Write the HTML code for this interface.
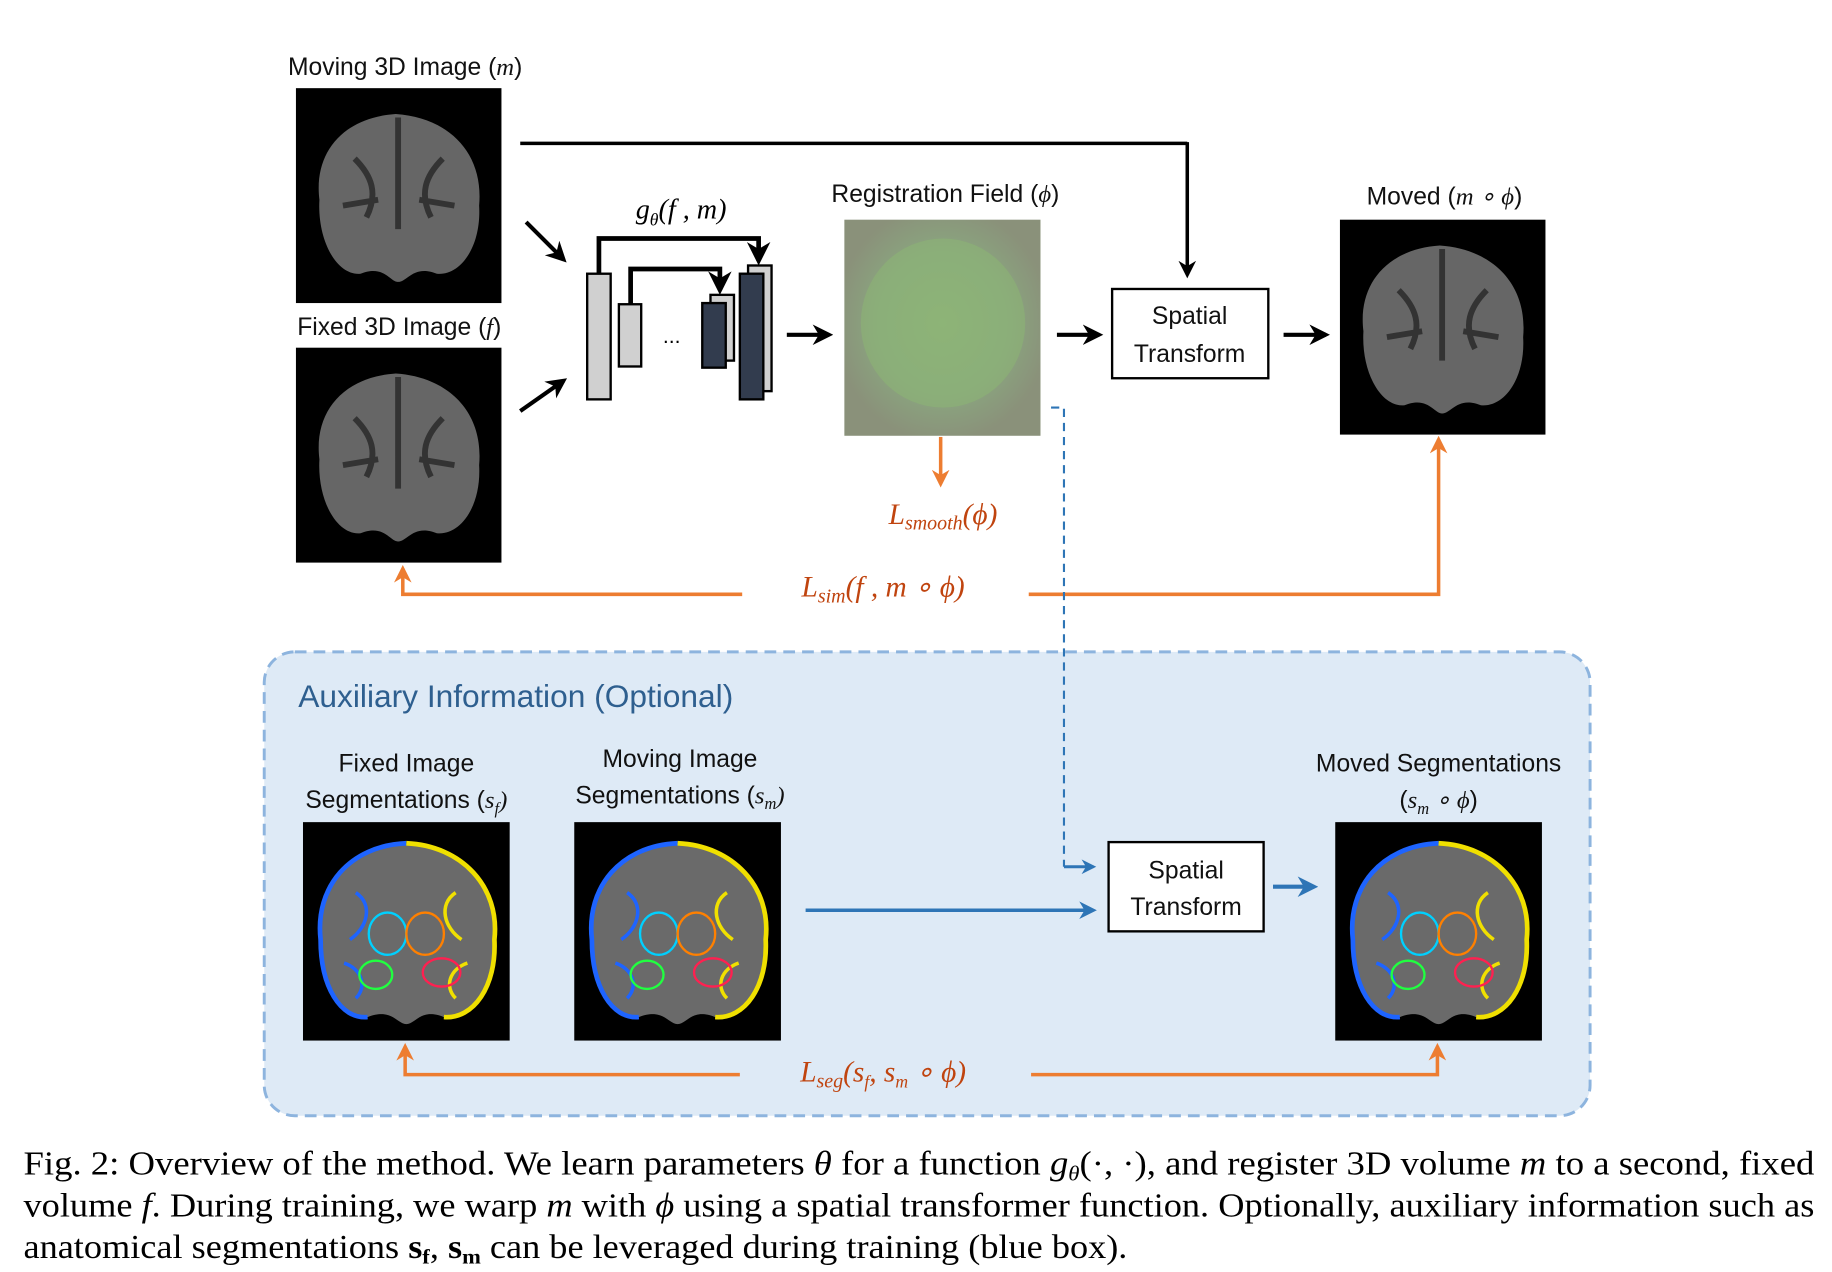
<!DOCTYPE html>
<html><head><meta charset="utf-8"><style>
html,body{margin:0;padding:0;background:#fff;width:1832px;height:1272px;overflow:hidden}
svg{display:block}
.s{font-family:"Liberation Sans","DejaVu Sans",sans-serif;font-size:21px;fill:#111}
.m{font-family:"Liberation Serif",serif;font-style:italic}
.o{fill:#c0440f;font-family:"Liberation Serif",serif;font-style:italic;font-size:25px}
.c{font-family:"Liberation Serif",serif;font-size:29px;fill:#000}
</style></head><body>
<svg width="1832" height="1272" viewBox="0 0 1560 1083" xmlns="http://www.w3.org/2000/svg">
<defs>
<marker id="ak" viewBox="0 0 10 10" refX="8" refY="5" markerWidth="5" markerHeight="5" orient="auto"><path d="M0,0 L10,5 L0,10 L3,5z" fill="#000"/></marker>
<marker id="ao" viewBox="0 0 10 10" refX="8" refY="5" markerWidth="5" markerHeight="5" orient="auto"><path d="M0,0 L10,5 L0,10 L3,5z" fill="#ed7d31"/></marker>
<marker id="ab" viewBox="0 0 10 10" refX="8" refY="5" markerWidth="5" markerHeight="5" orient="auto"><path d="M0,0 L10,5 L0,10 L3,5z" fill="#2e75b6"/></marker>
<g id="brain">
<rect x="0" y="0" width="175" height="183" fill="#000"/>
<path d="M20,95 C15,55 40,25 85,22 C130,25 160,55 156,100 C158,135 140,160 120,158 C100,150 95,165 87,165 C80,165 75,150 55,158 C35,160 18,130 20,95Z" fill="#666"/>
<path d="M87,25 L87,120 M50,60 C65,75 70,90 60,110 M125,60 C110,75 105,90 115,110 M40,100 L70,95 M135,100 L105,95" stroke="#333" stroke-width="5" fill="none"/>
</g>
<g id="seg">
<rect x="0" y="0" width="176" height="186" fill="#000"/>
<path d="M15,100 C10,55 40,20 88,18 C135,20 168,55 163,100 C165,140 145,168 120,166 C100,158 96,172 88,172 C80,172 76,158 55,166 C32,168 15,140 15,100Z" fill="#6a6a6a"/>
<path d="M88,18 C40,20 10,55 15,100 C15,140 32,168 55,166" stroke="#1e64ff" stroke-width="4" fill="none"/>
<path d="M88,18 C135,20 168,55 163,100 C165,140 145,168 120,166" stroke="#f0e000" stroke-width="4" fill="none"/>
<path d="M45,60 C60,70 55,90 40,100 M35,120 C50,125 55,140 45,150" stroke="#1e64ff" stroke-width="3" fill="none"/>
<path d="M130,60 C115,70 120,90 135,100 M140,120 C125,125 120,140 130,150" stroke="#f0e000" stroke-width="3" fill="none"/>
<ellipse cx="72" cy="95" rx="16" ry="18" fill="none" stroke="#00d0ff" stroke-width="2"/>
<ellipse cx="104" cy="95" rx="16" ry="18" fill="none" stroke="#ff8000" stroke-width="2"/>
<ellipse cx="62" cy="130" rx="14" ry="12" fill="none" stroke="#20ff40" stroke-width="2"/>
<ellipse cx="118" cy="128" rx="16" ry="12" fill="none" stroke="#ff2050" stroke-width="2"/>
</g>
<radialGradient id="rf" cx="50%" cy="48%" r="55%"><stop offset="0" stop-color="#8fb07a"/><stop offset="0.6" stop-color="#8aa67f"/><stop offset="1" stop-color="#8a917a"/></radialGradient>
</defs>

<text x="345" y="64" text-anchor="middle" class="s">Moving 3D Image (<tspan class="m">m</tspan>)</text>
<use href="#brain" x="252" y="75"/>
<text x="340" y="285" text-anchor="middle" class="s">Fixed 3D Image (<tspan class="m">f</tspan>)</text>
<use href="#brain" x="252" y="296"/>

<line x1="448" y1="189" x2="480" y2="221" stroke="#000" stroke-width="3.5" marker-end="url(#ak)"/>
<line x1="443" y1="350" x2="480" y2="324" stroke="#000" stroke-width="3.5" marker-end="url(#ak)"/>

<text x="580" y="186" text-anchor="middle" class="m" style="font-size:24px">g<tspan font-size="15" dy="6">θ</tspan><tspan dy="-6">(f , m)</tspan></text>
<polyline points="510,233 510,203 646,203 646,222" fill="none" stroke="#000" stroke-width="4" marker-end="url(#ak)"/>
<polyline points="537,259 537,229 613,229 613,247" fill="none" stroke="#000" stroke-width="4" marker-end="url(#ak)"/>
<rect x="500" y="233" width="20" height="107" fill="#d0d0d0" stroke="#000" stroke-width="2"/>
<rect x="527" y="259" width="19" height="53" fill="#d0d0d0" stroke="#000" stroke-width="2"/>
<text x="572" y="292" text-anchor="middle" style="font-size:18px;font-family:'Liberation Sans',sans-serif">...</text>
<rect x="605" y="251" width="20" height="56" fill="#d0d0d0" stroke="#000" stroke-width="2"/>
<rect x="598" y="258" width="20" height="55" fill="#323c4e" stroke="#000" stroke-width="2"/>
<rect x="637" y="226" width="20" height="107" fill="#d0d0d0" stroke="#000" stroke-width="2"/>
<rect x="630" y="233" width="20" height="107" fill="#323c4e" stroke="#000" stroke-width="2"/>
<line x1="670" y1="285" x2="706" y2="285" stroke="#000" stroke-width="3.5" marker-end="url(#ak)"/>

<text x="805" y="172" text-anchor="middle" class="s">Registration Field (<tspan class="m">ϕ</tspan>)</text>
<rect x="719" y="187" width="167" height="184" fill="url(#rf)"/>
<ellipse cx="803" cy="275" rx="70" ry="72" fill="#8cb873" opacity="0.5"/>
<line x1="1011" y1="122" x2="443" y2="122" stroke="#000" stroke-width="3"/>
<line x1="1011" y1="121" x2="1011" y2="234" stroke="#000" stroke-width="3" marker-end="url(#ak)"/>
<line x1="900" y1="285" x2="936" y2="285" stroke="#000" stroke-width="3.5" marker-end="url(#ak)"/>
<rect x="947" y="246" width="133" height="76" fill="#fff" stroke="#000" stroke-width="2"/>
<text x="1013" y="276" text-anchor="middle" class="s">Spatial</text>
<text x="1013" y="308" text-anchor="middle" class="s">Transform</text>
<line x1="1093" y1="285" x2="1129" y2="285" stroke="#000" stroke-width="3.5" marker-end="url(#ak)"/>
<text x="1230" y="174" text-anchor="middle" class="s">Moved  (<tspan class="m">m ∘ ϕ</tspan>)</text>
<use href="#brain" x="1141" y="187"/>

<line x1="801" y1="372" x2="801" y2="412" stroke="#ed7d31" stroke-width="3" marker-end="url(#ao)"/>
<text x="803" y="446" text-anchor="middle" class="o">L<tspan font-size="17" dy="5">smooth</tspan><tspan dy="-5">(ϕ)</tspan></text>
<polyline points="632,506 343,506 343,484" fill="none" stroke="#ed7d31" stroke-width="3" marker-end="url(#ao)"/>
<polyline points="876,506 1225,506 1225,374" fill="none" stroke="#ed7d31" stroke-width="3" marker-end="url(#ao)"/>
<text x="752" y="508" text-anchor="middle" class="o">L<tspan font-size="17" dy="5">sim</tspan><tspan dy="-5">(f , m ∘ ϕ)</tspan></text>

<rect x="225" y="555" width="1129" height="395" rx="26" fill="#deeaf6" stroke="#8db4de" stroke-width="2.5" stroke-dasharray="10,6"/>
<polyline points="895,347 906,347 906,738" fill="none" stroke="#2e75b6" stroke-width="1.8" stroke-dasharray="7,5"/>
<line x1="906" y1="738" x2="931" y2="738" stroke="#2e75b6" stroke-width="2.5" marker-end="url(#ab)"/>
<text x="254" y="602" style="font-family:'Liberation Sans',sans-serif;font-size:27px;fill:#2e5f8f">Auxiliary Information (Optional)</text>

<text x="346" y="657" text-anchor="middle" class="s">Fixed Image</text>
<text x="346" y="688" text-anchor="middle" class="s">Segmentations (<tspan class="m">s<tspan font-size="14" dy="5">f</tspan><tspan dy="-5">)</tspan></tspan></text>
<use href="#seg" x="258" y="700"/>
<text x="579" y="653" text-anchor="middle" class="s">Moving Image</text>
<text x="579" y="684" text-anchor="middle" class="s">Segmentations (<tspan class="m">s<tspan font-size="14" dy="5">m</tspan><tspan dy="-5">)</tspan></tspan></text>
<use href="#seg" x="489" y="700"/>
<line x1="686" y1="775" x2="931" y2="775" stroke="#2e75b6" stroke-width="3" marker-end="url(#ab)"/>
<rect x="944" y="717" width="132" height="76" fill="#fff" stroke="#000" stroke-width="2"/>
<text x="1010" y="748" text-anchor="middle" class="s">Spatial</text>
<text x="1010" y="779" text-anchor="middle" class="s">Transform</text>
<line x1="1084" y1="755" x2="1119" y2="755" stroke="#2e75b6" stroke-width="3.5" marker-end="url(#ab)"/>
<text x="1225" y="657" text-anchor="middle" class="s">Moved Segmentations</text>
<text x="1225" y="688" text-anchor="middle" class="s">(<tspan class="m">s<tspan font-size="14" dy="5">m</tspan><tspan dy="-5"> ∘ ϕ</tspan></tspan>)</text>
<use href="#seg" x="1137" y="700"/>

<polyline points="630,915 345,915 345,891" fill="none" stroke="#ed7d31" stroke-width="3" marker-end="url(#ao)"/>
<polyline points="878,915 1224,915 1224,891" fill="none" stroke="#ed7d31" stroke-width="3" marker-end="url(#ao)"/>
<text x="752" y="921" text-anchor="middle" class="o">L<tspan font-size="17" dy="5">seg</tspan><tspan dy="-5">(s</tspan><tspan font-size="15" dy="5">f</tspan><tspan dy="-5">, s</tspan><tspan font-size="15" dy="5">m</tspan><tspan dy="-5"> ∘ ϕ)</tspan></text>

<text x="20" y="1000" class="c" textLength="1525" lengthAdjust="spacingAndGlyphs">Fig. 2: Overview of the method. We learn parameters <tspan font-style="italic">θ</tspan> for a function <tspan font-style="italic">g</tspan><tspan font-size="18" dy="5" font-style="italic">θ</tspan><tspan dy="-5">(·, ·), and register 3D volume </tspan><tspan font-style="italic">m</tspan> to a second, fixed</text>
<text x="20" y="1036" class="c" textLength="1525" lengthAdjust="spacingAndGlyphs">volume <tspan font-style="italic">f</tspan>. During training, we warp <tspan font-style="italic">m</tspan> with <tspan font-style="italic">ϕ</tspan> using a spatial transformer function. Optionally, auxiliary information such as</text>
<text x="20" y="1071" class="c" textLength="940" lengthAdjust="spacingAndGlyphs">anatomical segmentations <tspan font-weight="bold">s</tspan><tspan font-size="18" dy="5" font-weight="bold">f</tspan><tspan dy="-5">, </tspan><tspan font-weight="bold">s</tspan><tspan font-size="18" dy="5" font-weight="bold">m</tspan><tspan dy="-5"> can be leveraged during training (blue box).</tspan></text>
</svg>
</body></html>
